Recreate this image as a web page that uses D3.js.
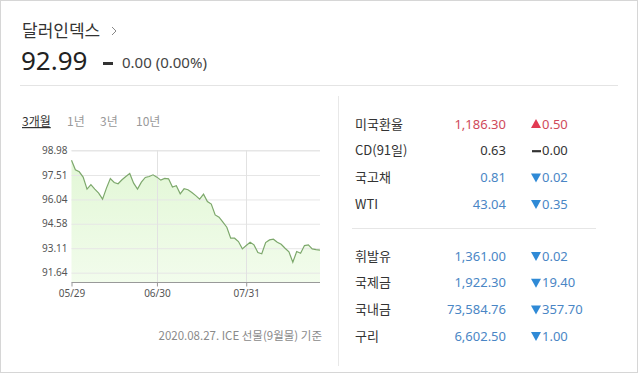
<!DOCTYPE html>
<html>
<head>
<meta charset="utf-8">
<script src="https://cdn.jsdelivr.net/npm/d3@7"></script>
<style>
  html, body { margin: 0; padding: 0; background: #fff; }
  svg { display: block; font-family: "Noto Sans CJK KR", "Noto Sans", sans-serif; }
</style>
</head>
<body>
<svg id="chart" width="638" height="374"></svg>
<script>
// ---- data ----
const indexName = "달러인덱스";
const lastValue = "92.99";
const lastChange = "0.00 (0.00%)";
const periodTabs = ["3개월", "1년", "3년", "10년"];

// daily close, 05/29 .. 08/27 (trading days)
const closes = [
  98.40, 97.82, 97.70, 97.38, 96.66, 96.93, 96.66, 96.42, 96.06, 96.72,
  97.30, 97.06, 96.98, 97.22, 97.42, 97.60, 97.02, 96.66, 97.08, 97.36,
  97.42, 97.52, 97.38, 97.20, 97.30, 97.28, 96.78, 96.86, 96.38, 96.68,
  96.62, 96.46, 96.27, 96.06, 96.36, 95.91, 95.76, 95.11, 94.97, 94.67,
  94.37, 93.71, 93.71, 93.51, 93.07, 93.27, 93.47, 93.31, 92.85, 92.78,
  93.45, 93.61, 93.65, 93.47, 93.35, 93.11, 92.89, 92.27, 92.91, 92.81,
  93.27, 93.31, 93.07, 93.02, 92.99
];
const yTicks = [91.64, 93.11, 94.58, 96.04, 97.51, 98.98];
const xTickIdx = [0, 22, 45];
const xTickLabels = ["05/29", "06/30", "07/31"];
const footnote = "2020.08.27. ICE 선물(9월물) 기준";

const groupA = ["미국환율", "CD(91일)", "국고채", "WTI"];
const groupAValues = ["1,186.30", "0.63", "0.81", "43.04"];
const groupAChanges = ["0.50", "0.00", "0.02", "0.35"];
const groupADir = ["up", "flat", "down", "down"];

const groupB = ["휘발유", "국제금", "국내금", "구리"];
const groupBValues = ["1,361.00", "1,922.30", "73,584.76", "6,602.50"];
const groupBChanges = ["0.02", "19.40", "357.70", "1.00"];
const groupBDir = ["down", "down", "down", "down"];

// ---- drawing ----
const svg = d3.select("#chart");

// frame
svg.append("rect").attr("x", 0.5).attr("y", 0.5).attr("width", 637).attr("height", 372)
  .attr("fill", "#fff").attr("stroke", "#d6d6d6");

// header
svg.append("text").attr("x", 22).attr("y", 37).attr("font-size", 17).attr("fill", "#333")
  .text(indexName);
svg.append("path").attr("d", "M112,27 L116,31 L112,35").attr("fill", "none")
  .attr("stroke", "#888").attr("stroke-width", 1);
svg.append("text").attr("x", 21).attr("y", 70).attr("font-size", 26).attr("fill", "#222")
  .attr("font-family", "Noto Sans, sans-serif").text(lastValue);
svg.append("rect").attr("x", 103).attr("y", 62).attr("width", 10).attr("height", 3).attr("fill", "#333");
svg.append("text").attr("x", 122).attr("y", 68).attr("font-size", 15).attr("fill", "#444")
  .attr("font-family", "Noto Sans, sans-serif").text(lastChange);
svg.append("line").attr("x1", 20).attr("x2", 618).attr("y1", 85.5).attr("y2", 85.5)
  .attr("stroke", "#e4e4e4");

// divider between chart and table
svg.append("line").attr("x1", 338.5).attr("x2", 338.5).attr("y1", 96).attr("y2", 366)
  .attr("stroke", "#e8e8e8");

// period tabs
const tabX = [22, 67, 100, 136];
svg.append("g").selectAll("text").data(periodTabs).join("text")
  .attr("x", (d, i) => tabX[i]).attr("y", 126).attr("font-size", 12)
  .attr("fill", (d, i) => i === 0 ? "#333" : "#999")
  .attr("text-decoration", (d, i) => i === 0 ? "underline" : null)
  .text(d => d);

// chart
const x = d3.scaleLinear().domain([0, closes.length - 1]).range([71.5, 320]);
const y = d3.scaleLinear().domain([91.08, 98.98]).range([282, 150.5]);

const defs = svg.append("defs");
const grad = defs.append("linearGradient").attr("id", "fillGrad")
  .attr("x1", 0).attr("x2", 0).attr("y1", 0).attr("y2", 1);
grad.append("stop").attr("offset", "0%").attr("stop-color", "#e2f7d6");
grad.append("stop").attr("offset", "100%").attr("stop-color", "#f2fcec");

const plot = svg.append("g");

// area
plot.append("path").datum(closes)
  .attr("fill", "url(#fillGrad)")
  .attr("d", d3.area().x((d, i) => x(i)).y0(y.range()[0]).y1(d => y(d)));

// horizontal grid + y labels
const yAxis = d3.axisLeft(y).tickValues(yTicks).tickFormat(d3.format(".2f"))
  .tickSize(-(320 - 71.5)).tickPadding(4);
const gy = plot.append("g").attr("transform", "translate(71.5,0)").call(yAxis);
gy.select(".domain").remove();
gy.selectAll(".tick line").attr("stroke", "#e6e6e6");
gy.selectAll(".tick text").attr("fill", "#555").attr("font-size", 10)
  .attr("font-family", "Noto Sans, sans-serif");
plot.append("line").attr("x1", 71.5).attr("x2", 320).attr("y1", 150.5).attr("y2", 150.5)
  .attr("stroke", "#e6e6e6");

// vertical grid
plot.append("g").selectAll("line").data(xTickIdx.slice(1)).join("line")
  .attr("x1", d => Math.round(x(d)) + 0.5).attr("x2", d => Math.round(x(d)) + 0.5)
  .attr("y1", 150).attr("y2", 282).attr("stroke", "#e2e2e2");

// line
plot.append("path").datum(closes)
  .attr("fill", "none").attr("stroke", "#7da86c").attr("stroke-width", 1.2)
  .attr("d", d3.line().x((d, i) => x(i)).y(d => y(d)));

// x axis
const xAxis = d3.axisBottom(x).tickValues(xTickIdx)
  .tickFormat((d, i) => xTickLabels[i]).tickSize(4).tickPadding(3);
const gx = plot.append("g").attr("transform", "translate(0,282.5)").call(xAxis);
gx.select(".domain").attr("stroke", "#999").attr("d", "M71.5,0H320");
gx.selectAll(".tick line").attr("stroke", "#999");
gx.selectAll(".tick text").attr("fill", "#555").attr("font-size", 10)
  .attr("font-family", "Noto Sans, sans-serif");

// footnote
svg.append("text").attr("x", 322).attr("y", 340).attr("text-anchor", "end")
  .attr("font-size", 11.5).attr("fill", "#8a8a8a").text(footnote);

// table
const colors = { up: "#cf4a5a", down: "#4a86c5", flat: "#333" };
const markColors = { up: "#e23a52", down: "#2f8ad6", flat: "#333" };

function drawGroup(names, values, changes, dirs, y0) {
  const g = svg.append("g");
  const rows = g.selectAll("g").data(names).join("g")
    .attr("transform", (d, i) => `translate(0,${y0 + i * 26.7})`);
  rows.append("text").attr("x", 355).attr("y", 0).attr("dy", "0.35em")
    .attr("font-size", 13).attr("fill", "#333").text(d => d);
  rows.append("text").attr("x", 506).attr("y", 0).attr("dy", "0.35em").attr("text-anchor", "end")
    .attr("font-size", 13).attr("font-family", "Noto Sans, sans-serif")
    .attr("fill", (d, i) => colors[dirs[i]]).text((d, i) => values[i]);
  rows.append("path")
    .attr("d", (d, i) => dirs[i] === "up" ? "M531,4 L541,4 L536,-5 Z"
      : dirs[i] === "down" ? "M531,-4 L541,-4 L536,5 Z" : "M532,0.5 H541")
    .attr("fill", (d, i) => markColors[dirs[i]])
    .attr("stroke", (d, i) => dirs[i] === "flat" ? "#333" : "none")
    .attr("stroke-width", 2.2);
  rows.append("text").attr("x", 542).attr("y", 0).attr("dy", "0.35em")
    .attr("font-size", 13).attr("font-family", "Noto Sans, sans-serif")
    .attr("fill", (d, i) => colors[dirs[i]]).text((d, i) => changes[i]);
}

drawGroup(groupA, groupAValues, groupAChanges, groupADir, 124);
svg.append("line").attr("x1", 352).attr("x2", 596).attr("y1", 228.5).attr("y2", 228.5)
  .attr("stroke", "#e6e6e6");
drawGroup(groupB, groupBValues, groupBChanges, groupBDir, 256);
</script>
</body>
</html>
